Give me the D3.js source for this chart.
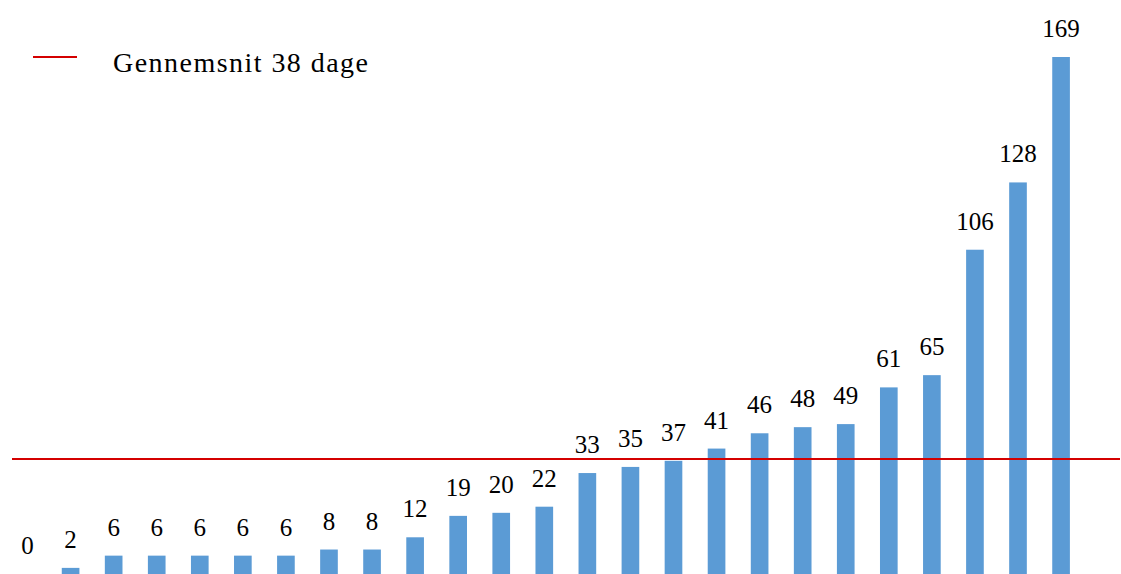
<!DOCTYPE html>
<meta charset="utf-8">
<body style="margin:0">
<svg id="s" width="1121" height="574" style="display:block">
</svg>
<script src="https://cdn.jsdelivr.net/npm/d3@7"></script>
<script>
  var values = [0, 2, 6, 6, 6, 6, 6, 8, 8, 12, 19, 20, 22, 33, 35, 37, 41, 46, 48, 49, 61, 65, 106, 128, 169];
  var categories = values.map(function(d, i) { return i; });
  var legendLabel = "Gennemsnit 38 dage";

  var svg = d3.select("#s");

  var x = d3.scaleBand()
      .domain(categories)
      .range([6, 1082.6])
      .paddingInner(0.59)
      .paddingOuter(0.295);

  var y = d3.scaleLinear()
      .domain([0, 169])
      .range([574, 57]);

  var avg = d3.mean(values);

  svg.selectAll("rect")
      .data(values)
    .enter().append("rect")
      .attr("fill", "#5b9bd5")
      .attr("x", function(d, i) { return x(i); })
      .attr("width", x.bandwidth())
      .attr("y", function(d) { return y(d); })
      .attr("height", function(d) { return y(0) - y(d); });

  svg.selectAll("text.lbl")
      .data(values)
    .enter().append("text")
      .attr("class", "lbl")
      .attr("x", function(d, i) { return x(i) + x.bandwidth() / 2; })
      .attr("y", function(d) { return y(d) - 20; })
      .attr("text-anchor", "middle")
      .attr("font-family", "Liberation Serif")
      .attr("font-size", 25)
      .text(function(d) { return d; });

  svg.append("line")
      .attr("stroke", "#d40000")
      .attr("stroke-width", 2)
      .attr("x1", 12)
      .attr("x2", 1120)
      .attr("y1", y(avg))
      .attr("y2", y(avg));

  // legend
  svg.append("line")
      .attr("stroke", "#d40000")
      .attr("stroke-width", 2)
      .attr("x1", 33).attr("x2", 77)
      .attr("y1", 57).attr("y2", 57);
  svg.append("text")
      .attr("x", 113)
      .attr("y", 72)
      .attr("font-family", "Liberation Serif")
      .attr("font-size", 28)
      .attr("textLength", 255)
      .attr("lengthAdjust", "spacing")
      .text(legendLabel);
</script>
</body>
